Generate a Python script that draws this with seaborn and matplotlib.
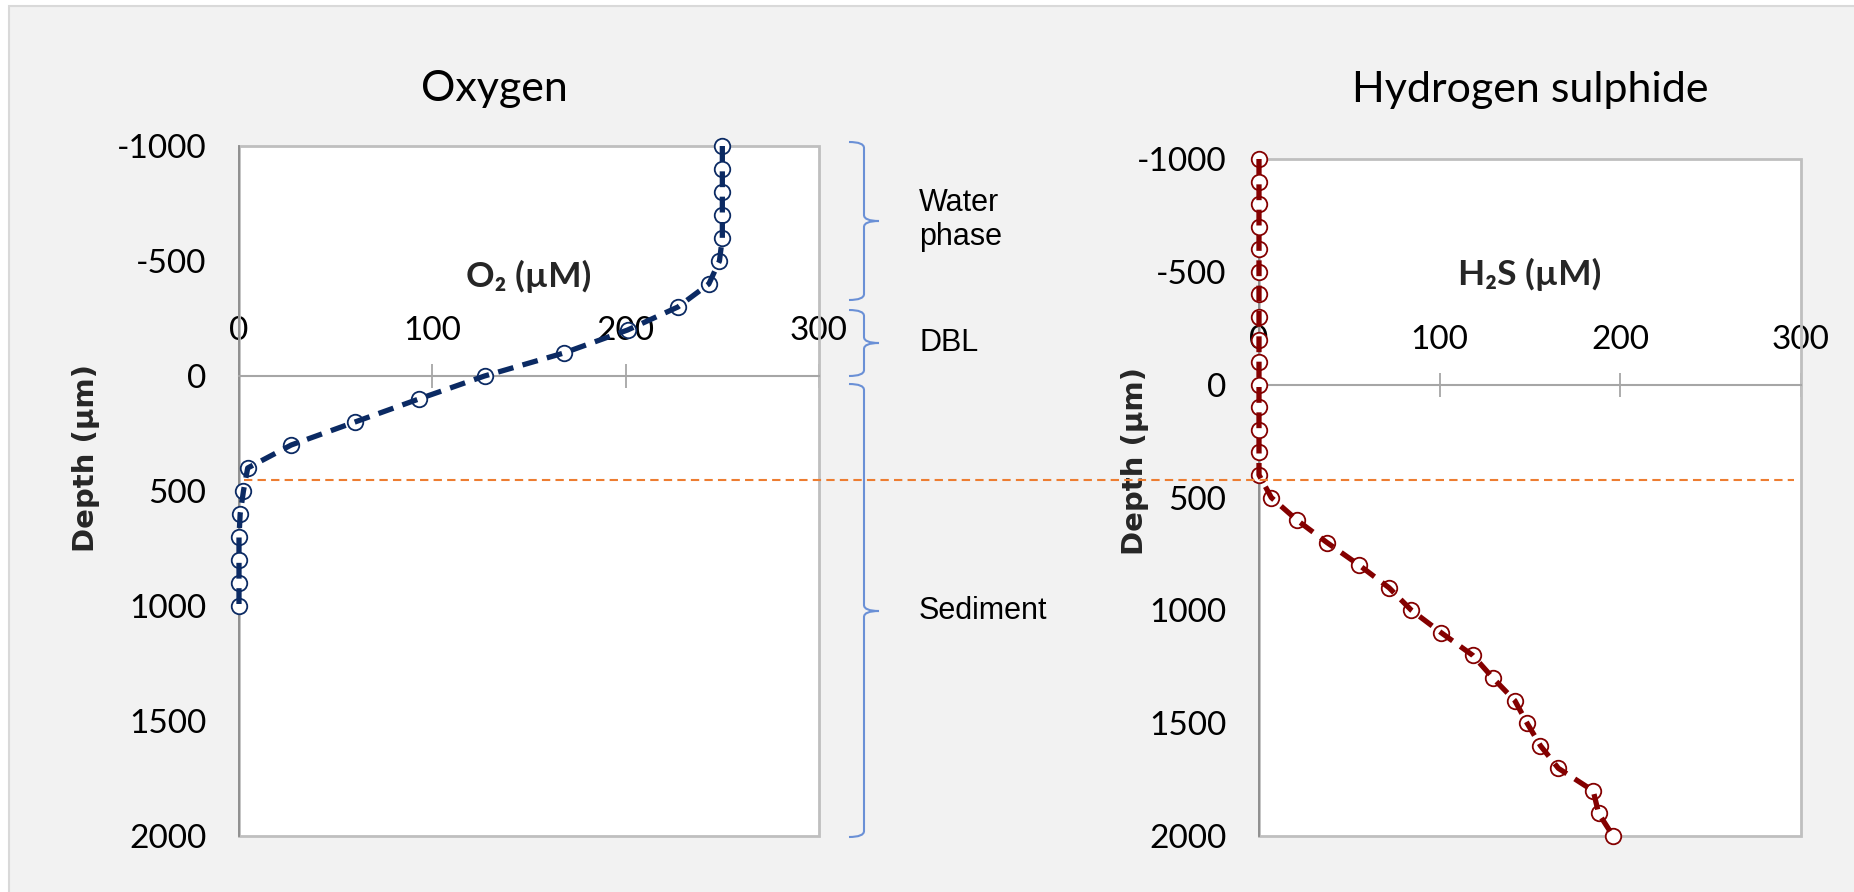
import matplotlib
matplotlib.use("Agg")
import matplotlib.pyplot as plt
import seaborn as sns
import pandas as pd
from matplotlib.patches import Rectangle, PathPatch
from matplotlib.path import Path
from matplotlib.lines import Line2D

# ---------------- data ----------------
o2_depth = [-1000, -900, -800, -700, -600, -500, -400, -300, -200, -100, 0,
            100, 200, 300, 400, 500, 600, 700, 800, 900, 1000]
o2_values = [250, 250, 250, 250, 250, 248.5, 243, 227, 201, 168, 127,
             93, 60, 27, 4.5, 2.3, 0.6, 0, 0, 0, 0]

h2s_depth = [-1000, -900, -800, -700, -600, -500, -400, -300, -200, -100, 0,
             100, 200, 300, 400, 500, 600, 700, 800, 900, 1000,
             1100, 1200, 1300, 1400, 1500, 1600, 1700, 1800, 1900, 2000]
h2s_values = [0, 0, 0, 0, 0, 0, 0, 0, 0, 0, 0,
              0, 0, 0, 0, 6.8, 21, 37.7, 55.5, 72, 84.4,
              101, 118.4, 129.5, 141.6, 148.4, 155.8, 165.7, 185, 188, 196]

depth_ticks = [-1000, -500, 0, 500, 1000, 1500, 2000]
depth_tick_labels = ["-1000", "-500", "0", "500", "1000", "1500", "2000"]
conc_ticks = [0, 100, 200, 300]
conc_tick_labels = ["0", "100", "200", "300"]

titles = ["Oxygen", "Hydrogen sulphide"]
xlabels = ["O\u2082 (\u00b5M)", "H\u2082S (\u00b5M)"]
ylabel_text = "Depth (\u00b5m)"
zone_labels = ["Water\nphase", "DBL", "Sediment"]

O2_COLOR = "#0b2a63"
H2S_COLOR = "#840000"

# ---------------- figure ----------------
W, H = 1854, 892
sns.set_style("white")
plt.rcParams['font.family'] = ['Lato', 'DejaVu Sans']
plt.rcParams['axes.unicode_minus'] = False

fig = plt.figure(figsize=(W / 100, H / 100), dpi=100, facecolor="white")
bg = Rectangle((9 / W, -0.05), 1.0, 1.05 - 6 / H, transform=fig.transFigure,
               facecolor="#f2f2f2", edgecolor="#d9d9d9", lw=1.5, zorder=-1)
fig.patches.append(bg)


def fx(x):
    return x / W


def fy(y):
    return 1 - y / H


ax1 = fig.add_axes([fx(239), fy(836), 580 / W, 690 / H])
ax2 = fig.add_axes([fx(1259), fy(836), 542 / W, 677 / H])

df_o2 = pd.DataFrame({"depth": o2_depth, "conc": o2_values})
df_h2s = pd.DataFrame({"depth": h2s_depth, "conc": h2s_values})


def draw_panel(ax, df, color, title, xlabel, title_x, title_y, xlabel_y, ylabel_xy):
    ax.set_facecolor("white")
    sns.scatterplot(data=df, x="conc", y="depth", ax=ax, color="white",
                    edgecolor=color, s=125, linewidth=1.3, zorder=3,
                    clip_on=False, legend=False)
    sns.lineplot(data=df, x="conc", y="depth", ax=ax, color=color, lw=3.8,
                 linestyle=(0, (3, 1.8)), sort=False, estimator=None,
                 zorder=4, clip_on=False, legend=False)
    ax.set_xlim(0, 300)
    ax.set_ylim(2000, -1000)
    ax.set_xticks(conc_ticks, conc_tick_labels)
    ax.set_yticks(depth_ticks, depth_tick_labels)
    ax.xaxis.set_ticks_position("top")
    ax.spines["top"].set_position(("data", 0))
    ax.spines["top"].set_color("#a6a6a6")
    ax.spines["top"].set_linewidth(1.5)
    ax.spines["left"].set_color("#8c8c8c")
    ax.spines["left"].set_linewidth(1.3)
    ax.spines["right"].set_visible(False)
    ax.spines["bottom"].set_visible(False)
    ax.tick_params(axis="both", direction="inout", length=17, width=1.3,
                   color="#a6a6a6", labelsize=24, labelcolor="black")
    ax.tick_params(axis="x", pad=13)
    ax.tick_params(axis="y", pad=15)
    border = Rectangle((0, 0), 1, 1, transform=ax.transAxes, fill=False,
                       edgecolor="#bfbfbf", lw=2, zorder=1, clip_on=False)
    ax.add_patch(border)
    ax.set_xlabel(xlabel, fontweight="bold", fontsize=25.5)
    ax.xaxis.set_label_position("top")
    ax.xaxis.set_label_coords(0.5, xlabel_y)
    ax.set_ylabel(ylabel_text, fontfamily="DejaVu Sans", fontweight="bold",
                  fontsize=21)
    ax.yaxis.set_label_coords(*ylabel_xy)
    ax.set_title(title, fontsize=31, x=title_x, y=title_y, pad=0, color="black")


draw_panel(ax1, df_o2, O2_COLOR, titles[0], xlabels[0], 0.44,
           (836 - 101) / 690, (836 - 287) / 690, (-0.24, 0.548))
draw_panel(ax2, df_h2s, H2S_COLOR, titles[1], xlabels[1], 0.5,
           (836 - 102) / 677, (836 - 285) / 677, (-0.203, 0.554))

# ---------------- annotations: braces, zone labels, dashed boundary ----------------
BRACE_COLOR = "#6a90d6"


def brace(top, bottom, tip, x_end=849, x_sp=864, x_tip=879, r=6):
    pts = [(x_end, top), (x_sp, top), (x_sp, top + r),
           (x_sp, tip - r), (x_sp, tip), (x_tip, tip),
           (x_sp, tip), (x_sp, tip + r),
           (x_sp, bottom - r), (x_sp, bottom), (x_end, bottom)]
    codes = [Path.MOVETO, Path.CURVE3, Path.CURVE3,
             Path.LINETO, Path.CURVE3, Path.CURVE3,
             Path.CURVE3, Path.CURVE3,
             Path.LINETO, Path.CURVE3, Path.CURVE3]
    verts = [(fx(x), fy(y)) for x, y in pts]
    p = PathPatch(Path(verts, codes), transform=fig.transFigure, fill=False,
                  edgecolor=BRACE_COLOR, lw=1.5, zorder=5)
    fig.patches.append(p)


brace(142, 300, 221)
brace(310, 376, 343)
brace(384, 837, 611)

for label, yc in zip(zone_labels, [220, 343, 611]):
    fig.text(fx(919), fy(yc), label, ha="left", va="center", fontsize=22,
             fontfamily="Liberation Sans", color="black")

boundary = Line2D([fx(244), fx(1794)], [fy(480), fy(480)],
                  transform=fig.transFigure, color="#ed7d31", lw=1.5,
                  linestyle=(0, (4, 2.5)), zorder=6)
fig.add_artist(boundary)

fig.savefig("out.png", dpi=100, facecolor=fig.get_facecolor())
